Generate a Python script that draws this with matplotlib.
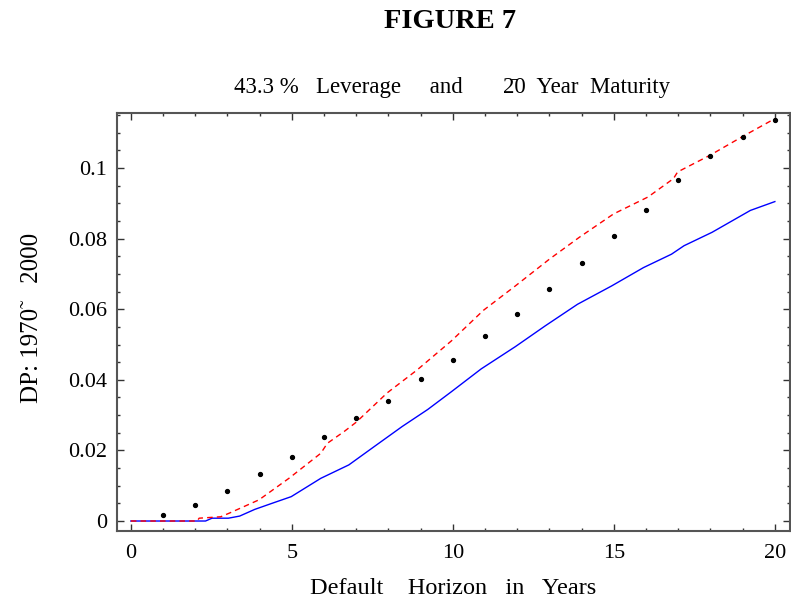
import matplotlib
matplotlib.use("Agg")
import matplotlib.pyplot as plt
from matplotlib.ticker import MultipleLocator

plt.rcParams['font.family'] = ['Liberation Serif', 'DejaVu Serif']

# empirical default probabilities (dots)
horizon_years = [1, 2, 3, 4, 5, 6, 7, 8, 9, 10, 11, 12, 13, 14, 15, 16, 17, 18, 19, 20]
dp_observed = [0.0017, 0.0045, 0.0086, 0.0134, 0.0182, 0.0237, 0.0292, 0.0339, 0.0401, 0.0457,
               0.0525, 0.0587, 0.0656, 0.0732, 0.0808, 0.0882, 0.0966, 0.1034, 0.1089, 0.1137]

# model curve, solid blue
blue_x = [0, 2.32, 2.52, 3.03, 3.38, 3.85, 4.38, 4.98, 5.9, 6.77, 7.56, 8.43, 9.22, 9.95,
          10.88, 11.94, 12.87, 13.87, 14.93, 15.92, 16.79, 17.18, 18.05, 19.24, 20]
blue_y = [0, 0, 0.0008, 0.0008, 0.0014, 0.0033, 0.005, 0.0069, 0.0121, 0.0159, 0.0211, 0.0268,
          0.0316, 0.0366, 0.0431, 0.0494, 0.0553, 0.0614, 0.0666, 0.0718, 0.0756, 0.078, 0.0818,
          0.088, 0.0905]

# model curve, dashed red
red_x = [0, 2.06, 2.12, 2.79, 3.05, 3.98, 4.91, 5.9, 6.1, 6.63, 7.0, 7.96, 8.89, 9.95, 10.95,
         11.94, 13.0, 13.93, 14.99, 16.06, 16.85, 16.98, 17.98, 18.97, 20]
red_y = [0, 0, 0.0008, 0.0012, 0.0022, 0.006, 0.0121, 0.0192, 0.022, 0.0254, 0.0280, 0.0363,
         0.0428, 0.0510, 0.0597, 0.0666, 0.0742, 0.0804, 0.087, 0.0918, 0.097, 0.0989, 0.1036,
         0.1088, 0.114]

fig = plt.figure(figsize=(7.91, 6.0), dpi=100)
ax = fig.add_axes([117 / 791, (600 - 531) / 600, (790 - 117) / 791, (531 - 113) / 600])

ax.plot(blue_x, blue_y, color='blue', lw=1.0)
ax.plot(red_x, red_y, color='red', lw=1.0, linestyle=(0, (4, 3)))
ax.plot(horizon_years, dp_observed, linestyle='none', marker='o', markersize=2.8, color='black')

ax.set_xlim(-0.43, 20.47)
ax.set_ylim(-0.00283, 0.1156)
ax.set_xticks([0, 5, 10, 15, 20])
ax.set_yticks([0, 0.02, 0.04, 0.06, 0.08, 0.1])
ax.set_yticklabels(['0', '0.02', '0.04', '0.06', '0.08', '0.1'])
ax.xaxis.set_minor_locator(MultipleLocator(1))
ax.yaxis.set_minor_locator(MultipleLocator(0.005))
ax.tick_params(which='both', direction='in', top=True, right=True, labelsize=16,
               color='#333333')
ax.tick_params(axis='x', pad=9)
ax.tick_params(axis='y', pad=7)
ax.tick_params(which='major', length=5, width=1)
ax.tick_params(which='minor', length=2.5, width=1)
for s in ax.spines.values():
    s.set_color('#555555')
    s.set_linewidth(1.5)

# labels placed in figure pixels
fig.text(453 / 791, 6 / 600, 'Default    Horizon   in   Years', ha='center', va='baseline',
         fontsize=17.5)
fig.text(32 / 791, 1 - 318 / 600, 'DP: 1970\u0303    2000', ha='center', va='center',
         rotation=90, fontsize=18)
fig.text(452 / 791, 1 - 87 / 600, '43.3 %   Leverage     and       2\u03040  Year  Maturity',
         ha='center', va='center', fontsize=16.5)
fig.text(450 / 791, 1 - 21 / 600, 'FIGURE 7', ha='center', va='center', fontsize=20.5,
         fontweight='bold')

fig.savefig('out.png', dpi=100)
